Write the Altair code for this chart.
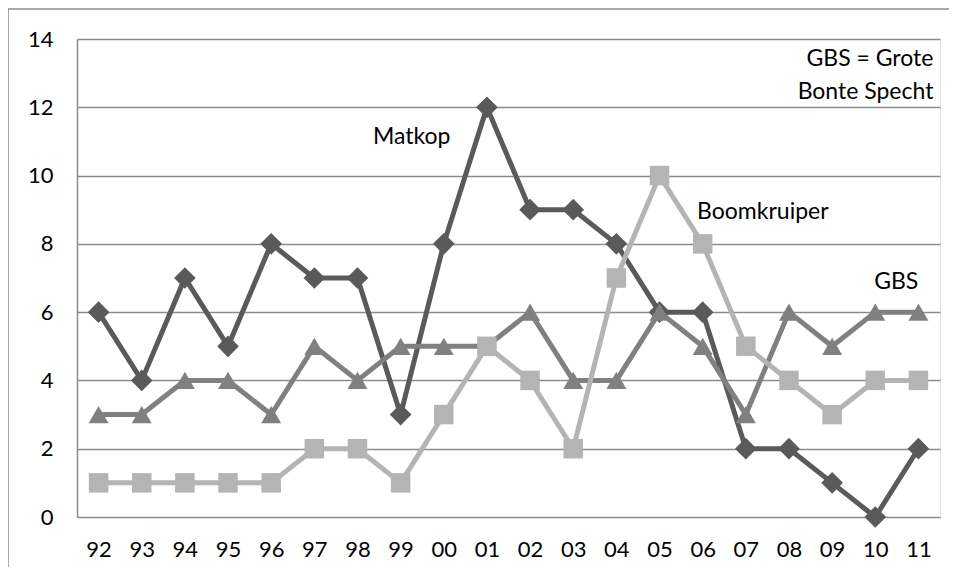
import altair as alt
import pandas as pd

years = ["92", "93", "94", "95", "96", "97", "98", "99", "00", "01",
         "02", "03", "04", "05", "06", "07", "08", "09", "10", "11"]
matkop = [6, 4, 7, 5, 8, 7, 7, 3, 8, 12, 9, 9, 8, 6, 6, 2, 2, 1, 0, 2]
gbs = [3, 3, 4, 4, 3, 5, 4, 5, 5, 5, 6, 4, 4, 6, 5, 3, 6, 5, 6, 6]
boomkruiper = [1, 1, 1, 1, 1, 2, 2, 1, 3, 5, 4, 2, 7, 10, 8, 5, 4, 3, 4, 4]

series_names = ["Matkop", "GBS", "Boomkruiper"]
series_values = [matkop, gbs, boomkruiper]
series_colors = ["#5a5a5a", "#808080", "#b4b4b4"]
series_shapes = ["diamond", "triangle-up", "square"]
series_sizes = [470, 400, 380]

label_texts = ["Matkop", "Boomkruiper", "GBS", "GBS = Grote", "Bonte Specht"]
label_years = ["99", "07", "10", "11", "11"]
label_values = [11.13, 8.93, 6.88, 13.4, 12.45]

FONT = "Lato"
W, H = 863, 478
PAD_L, PAD_T, PAD_R, PAD_B = 69, 31, 9, 50

xscale = alt.Scale(type="point", domain=years, padding=0.5)
yscale = alt.Scale(domain=[0, 14], nice=False)

layers = []
for name, vals, col, shp, sz in zip(series_names, series_values, series_colors,
                                     series_shapes, series_sizes):
    df = pd.DataFrame({"year": years, "value": vals})
    base = alt.Chart(df).encode(
        x=alt.X("year:N", scale=xscale, sort=years,
                axis=alt.Axis(title=None, labelAngle=0, domain=False, ticks=False,
                              grid=False, labelFontSize=22, labelFont=FONT,
                              labelColor="#000000", labelPadding=22)),
        y=alt.Y("value:Q", scale=yscale,
                axis=alt.Axis(title=None, values=list(range(0, 15, 2)), ticks=False,
                              domain=True, domainColor="#8c8c8c", domainWidth=1.5,
                              grid=True, gridColor="#8c8c8c", gridWidth=1.5,
                              labelFontSize=22, labelFont=FONT, labelColor="#000000",
                              labelPadding=24)),
    )
    line = base.mark_line(color=col, strokeWidth=5)
    pts = base.mark_point(shape=shp, size=sz, filled=True, color=col, opacity=1)
    layers += [line, pts]

lab_df = pd.DataFrame({"year": label_years, "value": label_values, "text": label_texts})
dxs = [11, 17, 21, 15, 15]
for i in range(len(label_texts)):
    sub = lab_df.iloc[[i]]
    align = "right" if i >= 3 else "center"
    layers.append(
        alt.Chart(sub).mark_text(font=FONT, fontSize=23, color="#000000",
                                 align=align, baseline="middle", dx=dxs[i]).encode(
            x=alt.X("year:N", scale=xscale, sort=years),
            y=alt.Y("value:Q", scale=yscale),
            text="text:N",
        )
    )

# outer chart border (left and top edges)
border_df = pd.DataFrame({"k": [0]})
left_border = alt.Chart(border_df).mark_rule(color="#8c8c8c", strokeWidth=1.5).encode(
    x=alt.value(-PAD_L), y=alt.value(-PAD_T + 1), y2=alt.value(H + PAD_B + 20))
top_border = alt.Chart(border_df).mark_rule(color="#8c8c8c", strokeWidth=1.5).encode(
    x=alt.value(-PAD_L), x2=alt.value(W + PAD_R + 20), y=alt.value(-PAD_T + 1))
layers += [left_border, top_border]

chart = alt.layer(*layers).properties(
    width=W, height=H,
    padding={"left": PAD_L, "top": PAD_T, "right": PAD_R, "bottom": PAD_B},
    autosize=alt.AutoSizeParams(type="none"),
).configure_view(stroke=None).configure(background="white")

chart.save("out.html", embed_options={"renderer": "svg", "actions": False})
